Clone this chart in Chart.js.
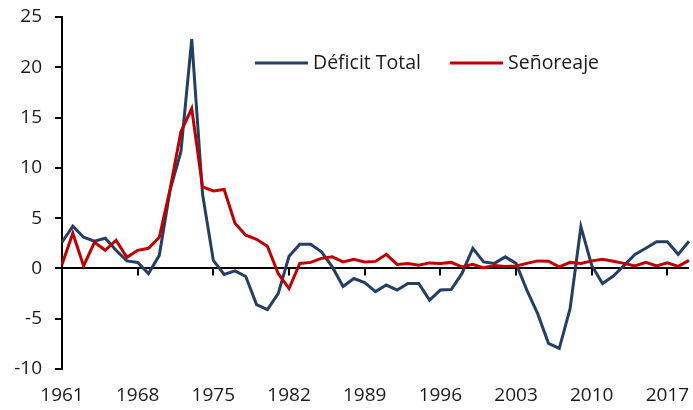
<!DOCTYPE html>
<html>
<head>
<meta charset="utf-8">
<script src="https://cdn.jsdelivr.net/npm/chart.js@4/dist/chart.umd.min.js"></script>
<style>
  html, body { margin: 0; padding: 0; background: #fff; }
  #wrap { width: 693px; height: 410px; }
</style>
</head>
<body>
<div id="wrap"><canvas id="myChart"></canvas></div>
<script>
// years 1961 - 2019
var years = [];
for (var y = 1961; y <= 2019; y++) years.push(String(y));

var deficitTotal = [
  2.6, 4.2, 3.1, 2.7, 3.0, 1.8, 0.75, 0.6, -0.5, 1.3,
  7.8, 11.6, 22.8, 7.4, 0.8, -0.6, -0.25, -0.8, -3.6, -4.1,
  -2.5, 1.2, 2.4, 2.4, 1.65, 0.15, -1.8, -1.0, -1.4, -2.3,
  -1.65, -2.15, -1.5, -1.5, -3.15, -2.15, -2.1, -0.5, 2.0, 0.65,
  0.5, 1.15, 0.5, -2.15, -4.5, -7.45, -7.95, -4.0, 4.15, 0.3,
  -1.5, -0.75, 0.3, 1.4, 2.0, 2.65, 2.65, 1.4, 2.7
];

var senoreaje = [
  0.4, 3.5, 0.25, 2.6, 1.8, 2.8, 1.1, 1.8, 2.0, 3.1,
  7.9, 13.6, 15.9, 8.1, 7.7, 7.85, 4.5, 3.3, 2.9, 2.2,
  -0.5, -2.0, 0.5, 0.6, 1.0, 1.15, 0.65, 0.9, 0.65, 0.7,
  1.4, 0.4, 0.5, 0.33, 0.55, 0.5, 0.6, 0.15, 0.4, 0.06,
  0.3, 0.2, 0.25, 0.5, 0.75, 0.72, 0.15, 0.6, 0.5, 0.75,
  0.9, 0.72, 0.5, 0.25, 0.6, 0.25, 0.55, 0.2, 0.8
];

var yTicks = [-10, -5, 0, 5, 10, 15, 20, 25];

var FONT = '"Open Sans", "Noto Sans", sans-serif';
var TEXT = '#1a1a1a';

// short tick marks hanging below the zero line
var zeroTicks = {
  id: 'zeroTicks',
  afterDatasetsDraw: function(chart) {
    var xs = chart.scales.x, ys = chart.scales.y;
    var ctx = chart.ctx;
    var y0 = ys.getPixelForValue(0);
    ctx.save();
    ctx.strokeStyle = '#000';
    ctx.lineWidth = 2;
    for (var i = 7; i < years.length; i += 7) {
      var x = Math.round(xs.getPixelForValue(i));
      ctx.beginPath();
      ctx.moveTo(x, y0);
      ctx.lineTo(x, y0 + 7);
      ctx.stroke();
    }
    ctx.restore();
  }
};

// legend drawn inside the plot, like the original
var innerLegend = {
  id: 'innerLegend',
  afterDraw: function(chart) {
    var ctx = chart.ctx;
    var area = chart.chartArea;
    var x = area.left + 193;
    var y = area.top + 46;
    ctx.save();
    ctx.font = '19.5px ' + FONT;
    ctx.textBaseline = 'middle';
    chart.data.datasets.forEach(function(ds) {
      ctx.strokeStyle = ds.borderColor;
      ctx.lineWidth = 3;
      ctx.beginPath();
      ctx.moveTo(x, y);
      ctx.lineTo(x + 53, y);
      ctx.stroke();
      ctx.fillStyle = TEXT;
      ctx.fillText(ds.label, x + 58, y);
      x += 58 + ctx.measureText(ds.label).width + 29;
    });
    ctx.restore();
  }
};

var ctx = document.getElementById('myChart').getContext('2d');
var myChart = new Chart(ctx, {
  type: 'line',
  data: {
    labels: years,
    datasets: [{
      label: 'Déficit Total',
      data: deficitTotal,
      borderColor: '#243f63',
      backgroundColor: '#243f63',
      borderWidth: 3,
      pointRadius: 0,
      tension: 0,
      order: 1
    },
    {
      label: 'Señoreaje',
      data: senoreaje,
      borderColor: '#c00000',
      backgroundColor: '#c00000',
      borderWidth: 3,
      pointRadius: 0,
      tension: 0,
      order: 0
    }]
  },
  options: {
    responsive: true,
    maintainAspectRatio: false,
    animation: false,
    layout: { padding: { top: 17, right: 4, left: 0, bottom: 0 } },
    plugins: {
      legend: { display: false },
      tooltip: { enabled: false }
    },
    scales: {
      x: {
        type: 'category',
        offset: false,
        grid: { display: false, drawTicks: false },
        border: { display: false },
        ticks: {
          autoSkip: false,
          maxRotation: 0,
          padding: 15,
          color: TEXT,
          font: { family: FONT, size: 19 },
          callback: function(val, i) {
            return i % 7 === 0 ? years[i] : '';
          }
        },
        afterFit: function(scale) {
          scale.height = 41;
          scale.paddingLeft = 0;
          scale.paddingRight = 0;
        }
      },
      y: {
        min: -10,
        max: 25,
        afterBuildTicks: function(scale) {
          scale.ticks = yTicks.map(function(v) { return { value: v }; });
        },
        grid: {
          color: function(c) { return c.tick && c.tick.value === 0 ? '#000' : 'rgba(0,0,0,0)'; },
          lineWidth: 2,
          tickColor: '#000',
          tickWidth: 2,
          tickLength: 7
        },
        border: { display: true, color: '#000', width: 2 },
        ticks: {
          padding: 13,
          color: TEXT,
          font: { family: FONT, size: 19 }
        },
        afterFit: function(scale) {
          scale.width = 62;
          scale.paddingTop = 0;
          scale.paddingBottom = 0;
        }
      }
    }
  },
  plugins: [zeroTicks, innerLegend]
});
</script>
</body>
</html>
